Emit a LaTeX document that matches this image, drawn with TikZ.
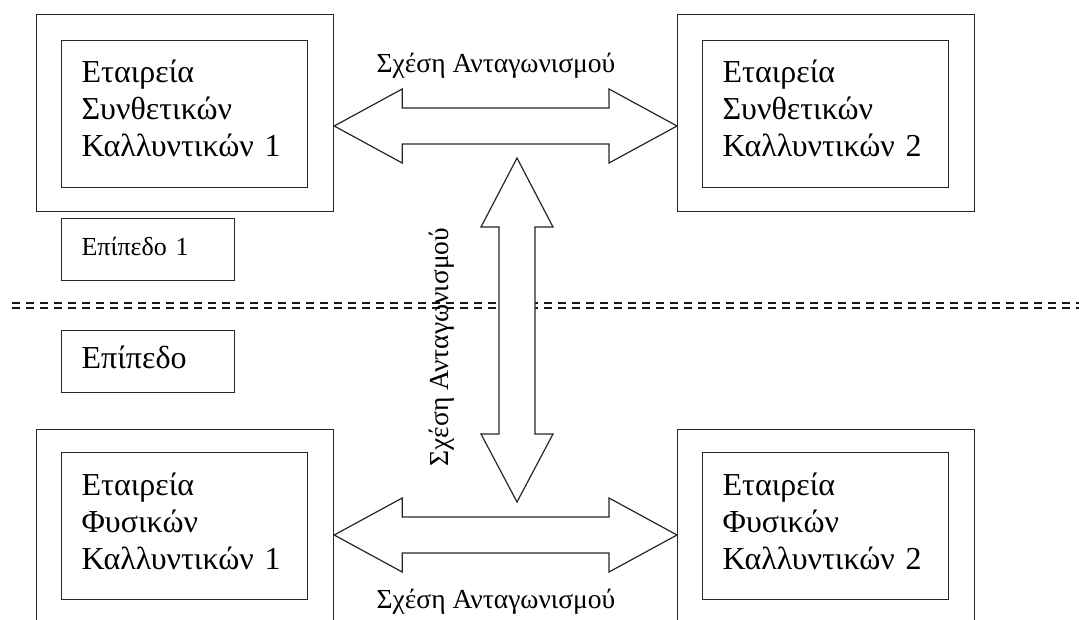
\documentclass[tikz,border=0pt]{standalone}
\usepackage{fontspec}
\setmainfont{Liberation Serif}
\usetikzlibrary{calc}
\newcommand{\lift}[1]{\rule[-#1]{0pt}{0pt}}
\begin{document}
\begin{tikzpicture}[x=1pt,y=-1pt,
  frame/.style={draw=black!85, line width=1.2pt, fill=white, inner sep=0pt, anchor=north west},
  outerbox/.style={frame, minimum width=297pt, minimum height=197pt},
  innerbox/.style={frame, minimum width=246pt, minimum height=147pt, text width=206pt, inner xsep=20pt, inner ysep=0pt, align=left, font=\fontsize{32}{37}\selectfont},
  levelbox/.style={frame, minimum height=62pt, text width=133pt, inner xsep=20pt, align=left},
  blk/.style={draw=black!85, line width=1.2pt, fill=white, line join=miter},
  lbl/.style={font=\fontsize{27.5}{31}\selectfont, inner sep=0pt},
  sep/.style={draw=black!90, line width=2.2pt, dash pattern=on 8pt off 6pt}
]
\useasboundingbox (0,0) rectangle (1079,620);
\clip (0,0) rectangle (1079,620);

% level separator (double dashed line)
\coordinate (sepL) at (12,303);
\coordinate (sepR) at (1079,303);
\draw[sep] (sepL) -- (sepR);
\draw[sep] ($(sepL)+(0,5)$) -- ($(sepR)+(0,5)$);

% boxes
\node[outerbox] (s1o) at (36,14) {};
\node[innerbox] (s1) at (61,40) {Εταιρεία\\Συνθετικών\\Καλλυντικών 1\lift{11pt}};
\node[outerbox] (s2o) at (677,14) {};
\node[innerbox] (s2) at (702,40) {Εταιρεία\\Συνθετικών\\Καλλυντικών 2\lift{11pt}};
\node[outerbox] (f1o) at (36,429) {};
\node[innerbox] (f1) at (61,452) {Εταιρεία\\Φυσικών\\Καλλυντικών 1\lift{10pt}};
\node[outerbox] (f2o) at (677,429) {};
\node[innerbox] (f2) at (702,452) {Εταιρεία\\Φυσικών\\Καλλυντικών 2\lift{10pt}};

\node[levelbox, font=\fontsize{26}{30}\selectfont] (e1) at (61,218) {Επίπεδο 1\lift{6pt}};
\node[levelbox, font=\fontsize{32}{36}\selectfont] (e2) at (61,330) {Επίπεδο\lift{8pt}};

% top double arrow
\coordinate (tl) at ($(s1o.north east)+(0,112)$);
\coordinate (tr) at ($(s2o.north west)+(0,112)$);
\draw[blk] (tl) -- ++(68,-37) -- ++(0,19) -- ($(tr)+(-68,-18)$) -- ++(0,-19) -- (tr)
  -- ++(-68,37) -- ++(0,-19) -- ($(tl)+(68,18)$) -- ++(0,19) -- cycle;

% bottom double arrow
\coordinate (bl) at ($(f1o.north east)+(0,106)$);
\coordinate (br) at ($(f2o.north west)+(0,106)$);
\draw[blk] (bl) -- ++(68,-37) -- ++(0,19) -- ($(br)+(-68,-18)$) -- ++(0,-19) -- (br)
  -- ++(-68,37) -- ++(0,-19) -- ($(bl)+(68,18)$) -- ++(0,19) -- cycle;

% vertical double arrow
\coordinate (vt) at (517,158);
\coordinate (vb) at (517,502);
\draw[blk] (vt) -- ++(-36,69) -- ++(18,0) -- ($(vb)+(-18,-68)$) -- ++(-18,0) -- (vb)
  -- ++(36,-68) -- ++(-18,0) -- ($(vt)+(18,69)$) -- ++(18,0) -- cycle;

% labels
\node[lbl, anchor=base] (lt) at (496,73) {Σχέση Ανταγωνισμού};
\node[lbl, anchor=base] (lb) at (496,608) {Σχέση Ανταγωνισμού};
\node[lbl, rotate=90] (lv) at (442,347) {Σχέση Ανταγωνισμού};
\end{tikzpicture}
\end{document}
